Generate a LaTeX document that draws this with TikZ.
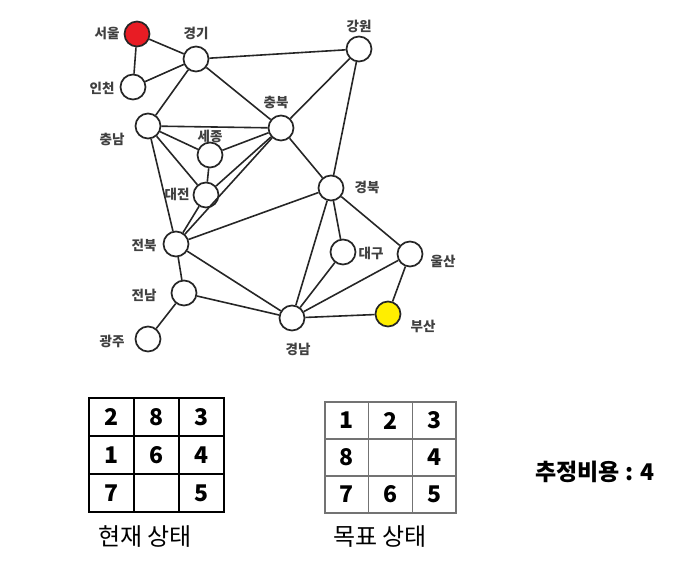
\documentclass[tikz,border=0pt]{standalone}
\usepackage{fontspec}
\newfontfamily\kr{Noto Sans CJK KR}
\usetikzlibrary{positioning}
\definecolor{seoulred}{RGB}{232,28,36}
\definecolor{busanyellow}{RGB}{255,238,0}
\tikzset{
    city/.style={circle, draw=black!85, line width=1.7pt, minimum size=25pt, inner sep=0pt},
    road/.style={line width=1.6pt, black!85},
    cityname/.style={font=\kr\bfseries\fontsize{13.5}{15}\selectfont, text=black!75, inner sep=0pt},
    cell/.style={rectangle, draw=black, line width=1.1pt, minimum width=45pt, minimum height=38pt, inner sep=0pt, font=\kr\bfseries\fontsize{23}{25}\selectfont},
    goalcell/.style={cell, draw=black!55, line width=1.4pt, minimum width=43.7pt, minimum height=37pt},
    caption/.style={font=\kr\fontsize{24}{26}\selectfont, inner sep=0pt},
}
\begin{document}
\begin{tikzpicture}[x=1pt,y=-1pt]
    \useasboundingbox (0,0) rectangle (687,568);

    % Cities
    \foreach \x/\y/\name/\col in {137/34/seoul/seoulred, 196/59/gyeonggi/white, 133/87/incheon/white,
            359/49/gangwon/white, 148/126/chungnam/white, 281/128/chungbuk/white,
            210/155/sejong/white, 206/195/daejeon/white, 331/188/gyeongbuk/white,
            176/244/jeonbuk/white, 343/252/daegu/white, 410/254/ulsan/white,
            184/293/jeonnam/white, 388/314/busan/busanyellow, 292/318/gyeongnam/white,
            148/339/gwangju/white} {
        \node[city, fill=\col] (\name) at (\x, \y) {};
    }

    % City names
    \foreach \x/\y/\name/\txt in {107/33/seoul/서울, 196/33/gyeonggi/경기, 102/88/incheon/인천,
            359/26/gangwon/강원, 112/139/chungnam/충남, 276/102/chungbuk/충북,
            210/136/sejong/세종, 177/194/daejeon/대전, 367/187/gyeongbuk/경북,
            144/245/jeonbuk/전북, 371/253/daegu/대구, 443/261/ulsan/울산,
            144/295/jeonnam/전남, 423/326/busan/부산, 298/349/gyeongnam/경남,
            112/341/gwangju/광주} {
        \node[cityname] (l-\name) at (\x, \y) {\txt};
    }

    % Roads
    \foreach \a/\b in {seoul/gyeonggi, seoul/incheon, incheon/gyeonggi, gyeonggi/gangwon,
            gyeonggi/chungnam, gyeonggi/chungbuk, chungnam/chungbuk, chungnam/sejong,
            chungnam/daejeon, chungnam/jeonbuk, sejong/chungbuk, sejong/daejeon,
            daejeon/chungbuk, daejeon/jeonbuk, chungbuk/jeonbuk, chungbuk/gangwon,
            chungbuk/gyeongbuk, gangwon/gyeongbuk, gyeongbuk/jeonbuk, gyeongbuk/gyeongnam,
            gyeongbuk/daegu, gyeongbuk/ulsan, daegu/gyeongnam, ulsan/gyeongnam,
            ulsan/busan, gyeongnam/busan, jeonbuk/jeonnam, jeonbuk/gyeongnam,
            jeonnam/gyeongnam, jeonnam/gwangju} {
        \draw[road] (\a) -- (\b);
    }

    % Current state
    \foreach \v [count=\i from 0] in {2,8,3,1,6,4,7,{},5} {
        \pgfmathtruncatemacro{\cc}{mod(\i,3)}
        \pgfmathtruncatemacro{\rr}{\i/3}
        \node[cell] (cur\i) at (111.5+45*\cc, 417+38*\rr) {\v};
    }
    \node[caption] (curcap) at (145, 537) {현재 상태};

    % Goal state
    \foreach \v [count=\i from 0] in {1,2,3,8,{},4,7,6,5} {
        \pgfmathtruncatemacro{\cc}{mod(\i,3)}
        \pgfmathtruncatemacro{\rr}{\i/3}
        \node[goalcell] (goal\i) at (346.9+43.7*\cc, 420.5+37*\rr) {\v};
    }
    \node[caption] (goalcap) at (380, 537) {목표 상태};

    \node[caption, font=\kr\bfseries\fontsize{23}{26}\selectfont] (cost) at (595, 472) {추정비용 : 4};
\end{tikzpicture}
\end{document}
